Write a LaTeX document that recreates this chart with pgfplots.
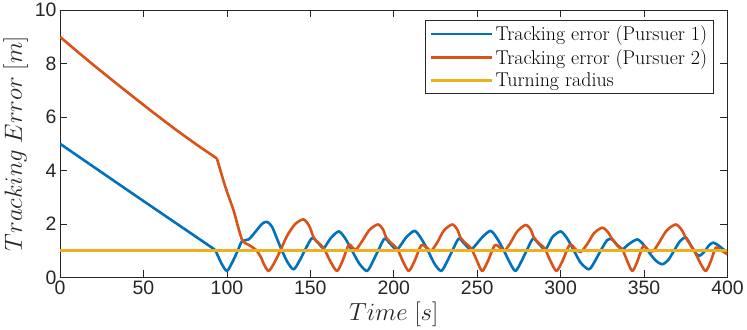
\documentclass[border=0pt]{standalone}
\usepackage{fontspec}
\usepackage{pgfplots}
\pgfplotsset{compat=1.18}
\newfontfamily\ticksf{Liberation Sans}
\definecolor{mblue}{rgb}{0,0.447,0.741}
\definecolor{morange}{rgb}{0.85,0.325,0.098}
\definecolor{myellow}{rgb}{0.929,0.694,0.125}
\definecolor{axgray}{rgb}{0.15,0.15,0.15}

% Pursuer 1
\pgfplotstableread{
t e
0 5
45 3.07
88 1.24
93 1.0
96.5 0.55
100 0.24
103.5 0.6
106.5 1.0
109 1.35
113 1.42
117 1.7
121 2.0
124 2.08
127 1.9
130 1.45
133 1.0
136.5 0.55
140 0.3
143.5 0.62
147 1.05
151 1.47
154.5 1.3
158 1.1
162 1.45
167 1.72
171 1.45
175 1.0
179.5 0.5
184 0.24
187.5 0.6
191 1.05
194.5 1.45
198 1.25
202 1.05
207.5 1.5
212.5 1.74
216.5 1.45
220.5 1.0
224.5 0.5
228.5 0.24
232 0.6
235.5 1.05
239 1.45
242.5 1.25
246.5 1.05
253 1.5
258 1.74
262 1.45
266 1.0
270 0.5
273 0.24
276.5 0.6
280 1.05
283.5 1.45
287 1.25
291 1.05
295 1.5
300 1.72
304 1.45
308 1.0
312 0.55
317 0.3
320.5 0.6
324 1.0
328 1.4
331 1.42
334 1.2
337 1.05
341 1.25
346 1.42
350 1.2
354 0.85
357.5 0.6
361 0.49
364.5 0.65
368 1.0
371.5 1.35
375 1.49
378 1.2
380.5 0.95
383 0.8
386 0.95
389 1.2
391.5 1.3
394.5 1.2
397.5 1.05
400 0.95
}\pone

% Pursuer 2, approach phase
\pgfplotstableread{
t e
0 9
10 8.47
20 7.95
32.5 7.32
45 6.7
57.5 6.09
70 5.5
82 4.96
94 4.45
}\ptwoa

% Pursuer 2, after capture
\pgfplotstableread{
t e
94 4.45
99 3.4
104 2.5
109 1.42
113 1.22
117 1.05
120 0.8
122.5 0.45
125 0.24
128 0.5
132 1.0
136 1.55
141 2.0
146 2.17
149.5 1.9
152 1.49
155 1.28
158 1.1
162 0.6
166 0.24
169.5 0.65
173 1.22
175.5 1.1
177.5 1.05
181 1.35
185.5 1.78
190.5 1.98
193.5 1.8
195.5 1.49
198.5 1.28
202 1.08
205.5 0.6
209 0.24
212.5 0.62
216.5 1.2
220 1.1
222.5 1.0
226 1.3
230 1.75
235 1.98
238 1.8
240 1.49
243 1.28
246.5 1.08
250 0.6
253 0.24
256.5 0.62
260.5 1.2
264 1.1
266.5 1.0
270 1.3
274 1.72
279 1.96
282 1.8
284 1.49
287 1.28
290.5 1.08
294 0.6
297.5 0.24
301 0.6
305.5 1.22
309 1.05
312 0.95
316 1.25
320 1.65
325 1.86
328.5 1.68
331 1.42
334 1.2
337 1.05
340 0.6
343 0.24
346 0.6
349.5 1.17
353 1.0
355.5 0.98
359 1.3
363.5 1.75
369 1.98
372.5 1.78
375 1.49
378 1.2
380.5 0.95
384 0.5
387 0.24
390 0.6
393 1.11
396.5 1.0
400 0.86
}\ptwob

\begin{document}
\begin{tikzpicture}
\begin{axis}[
  width=667bp, height=267bp, scale only axis,
  xmin=0, xmax=400, ymin=0, ymax=10,
  xtick={0,50,...,400}, ytick={0,2,...,10},
  tick align=inside, major tick length=7bp,
  axis line style={axgray, line width=0.8bp},
  every tick/.style={axgray, line width=0.8bp},
  /pgf/number format/assume math mode=true,
  tick label style={font=\ticksf\fontsize{19.5}{21}\selectfont, text=axgray},
  xlabel={$Time\ [s]$},
  ylabel={$Tracking\ Error\ [m]$},
  label style={font=\fontsize{23}{25}\selectfont, text=axgray},
  legend style={at={(0.979,0.962)}, anchor=north east,
    draw=axgray, line width=0.6bp, fill=white,
    font=\fontsize{20}{22}\selectfont, row sep=3bp,
    inner xsep=4bp, inner ysep=3bp},
  legend cell align=left,
  legend image code/.code={\draw[#1] (0bp,0bp) -- (61bp,0bp);},
  every axis plot/.append style={line width=2.6bp, line join=round},
]
\addplot[color=mblue, smooth, tension=0.45] table[x=t, y=e] {\pone};
\addlegendentry{Tracking error (Pursuer 1)}
\addplot[color=morange, forget plot] table[x=t, y=e] {\ptwoa};
\addplot[color=morange, smooth, tension=0.45] table[x=t, y=e] {\ptwob};
\addlegendentry{Tracking error (Pursuer 2)}
\addplot[color=myellow, line width=3bp] coordinates {(0,1) (400,1)};
\addlegendentry{Turning radius}
\end{axis}
\end{tikzpicture}
\end{document}
